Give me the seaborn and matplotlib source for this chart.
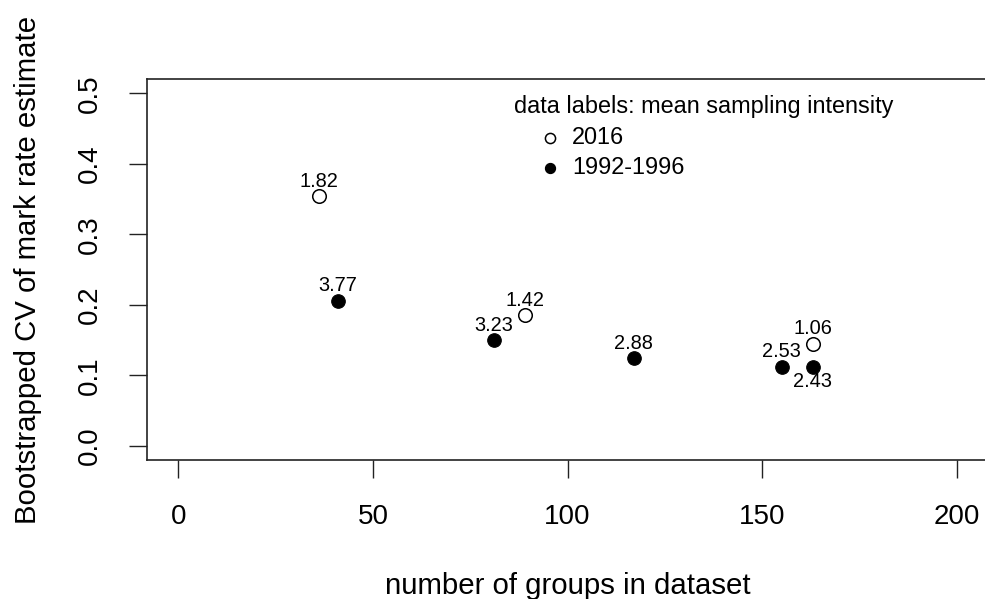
import matplotlib
matplotlib.use("Agg")
import matplotlib.pyplot as plt
import seaborn as sns
import pandas as pd

# Bootstrapped CV of the mark rate estimate against dataset size
groups_2016 = [36, 89, 163]
cv_2016 = [0.354, 0.185, 0.145]
intensity_2016 = [1.82, 1.42, 1.06]

groups_early = [41, 81, 117, 155, 163]
cv_early = [0.206, 0.150, 0.124, 0.112, 0.112]
intensity_early = [3.77, 3.23, 2.88, 2.53, 2.43]

period_names = ["2016", "1992-1996"]
x_ticks = [0, 50, 100, 150, 200]
y_ticks = [0.0, 0.1, 0.2, 0.3, 0.4, 0.5]

df = pd.DataFrame({
    "groups": groups_2016 + groups_early,
    "cv": cv_2016 + cv_early,
    "intensity": intensity_2016 + intensity_early,
    "period": [period_names[0]] * len(groups_2016) + [period_names[1]] * len(groups_early),
})

sns.set_theme(style="ticks")
plt.rcParams["font.family"] = ["Liberation Sans", "DejaVu Sans"]
plt.rcParams.update({
    "text.color": "black",
    "axes.labelcolor": "black",
    "xtick.color": "black",
    "ytick.color": "black",
    "axes.linewidth": 1.2,
})

fig = plt.figure(figsize=(9.85, 5.99), dpi=100)
ax = fig.add_axes([0.1495, 0.2321, 0.8535, 0.6355])

open_df = df[df["period"] == period_names[0]]
fill_df = df[df["period"] == period_names[1]]

sns.scatterplot(data=open_df, x="groups", y="cv", ax=ax, marker="o", s=95,
                facecolor="white", edgecolor="black", linewidth=1.1, label=period_names[0],
                zorder=3)
sns.scatterplot(data=fill_df, x="groups", y="cv", ax=ax, marker="o", s=95,
                color="black", edgecolor="black", linewidth=0.8, label=period_names[1],
                zorder=3)

# value labels: mean sampling intensity, above each point (one below to avoid overlap)
for _, r in df.iterrows():
    below = (r["period"] == period_names[1]) and (r["groups"] == 163)
    ax.annotate(f"{r['intensity']:.2f}", (r["groups"], r["cv"]),
                xytext=(0, -10.6 if below else 10.8), textcoords="offset points",
                ha="center", va="center", fontsize=14.4, color="black")

ax.set_xlim(-8, 208)
ax.set_ylim(-0.02, 0.52)
ax.set_xticks(x_ticks)
ax.set_yticks(y_ticks)
ax.set_xticklabels([str(t) for t in x_ticks])
ax.set_yticklabels([f"{t:.1f}" for t in y_ticks])
ax.tick_params(axis="both", direction="out", length=13, width=1.0, color="#222222",
               labelsize=20, pad=19, labelcolor="black")
ax.tick_params(axis="y", labelrotation=90, pad=19)
for lab in ax.get_yticklabels():
    lab.set_va("center")

for sp in ax.spines.values():
    sp.set_color("#222222")
    sp.set_linewidth(1.2)

ax.set_xlabel("number of groups in dataset", fontsize=21.2, labelpad=30)
ax.set_ylabel("Bootstrapped CV of mark rate estimate", fontsize=21.2, labelpad=25)

leg = ax.legend(loc="upper left", bbox_to_anchor=(543 / 985, 1 - 126 / 599),
                bbox_transform=fig.transFigure, frameon=False, fontsize=16.9,
                handlelength=0.6, handletextpad=0.65, labelspacing=0.3,
                borderpad=0, borderaxespad=0, markerscale=0.75)
for t in leg.get_texts():
    t.set_color("black")
fig.text(514 / 985, 1 - 106.7 / 599, "data labels: mean sampling intensity",
         ha="left", va="center", fontsize=16.9)

fig.savefig("out.png", dpi=100)
